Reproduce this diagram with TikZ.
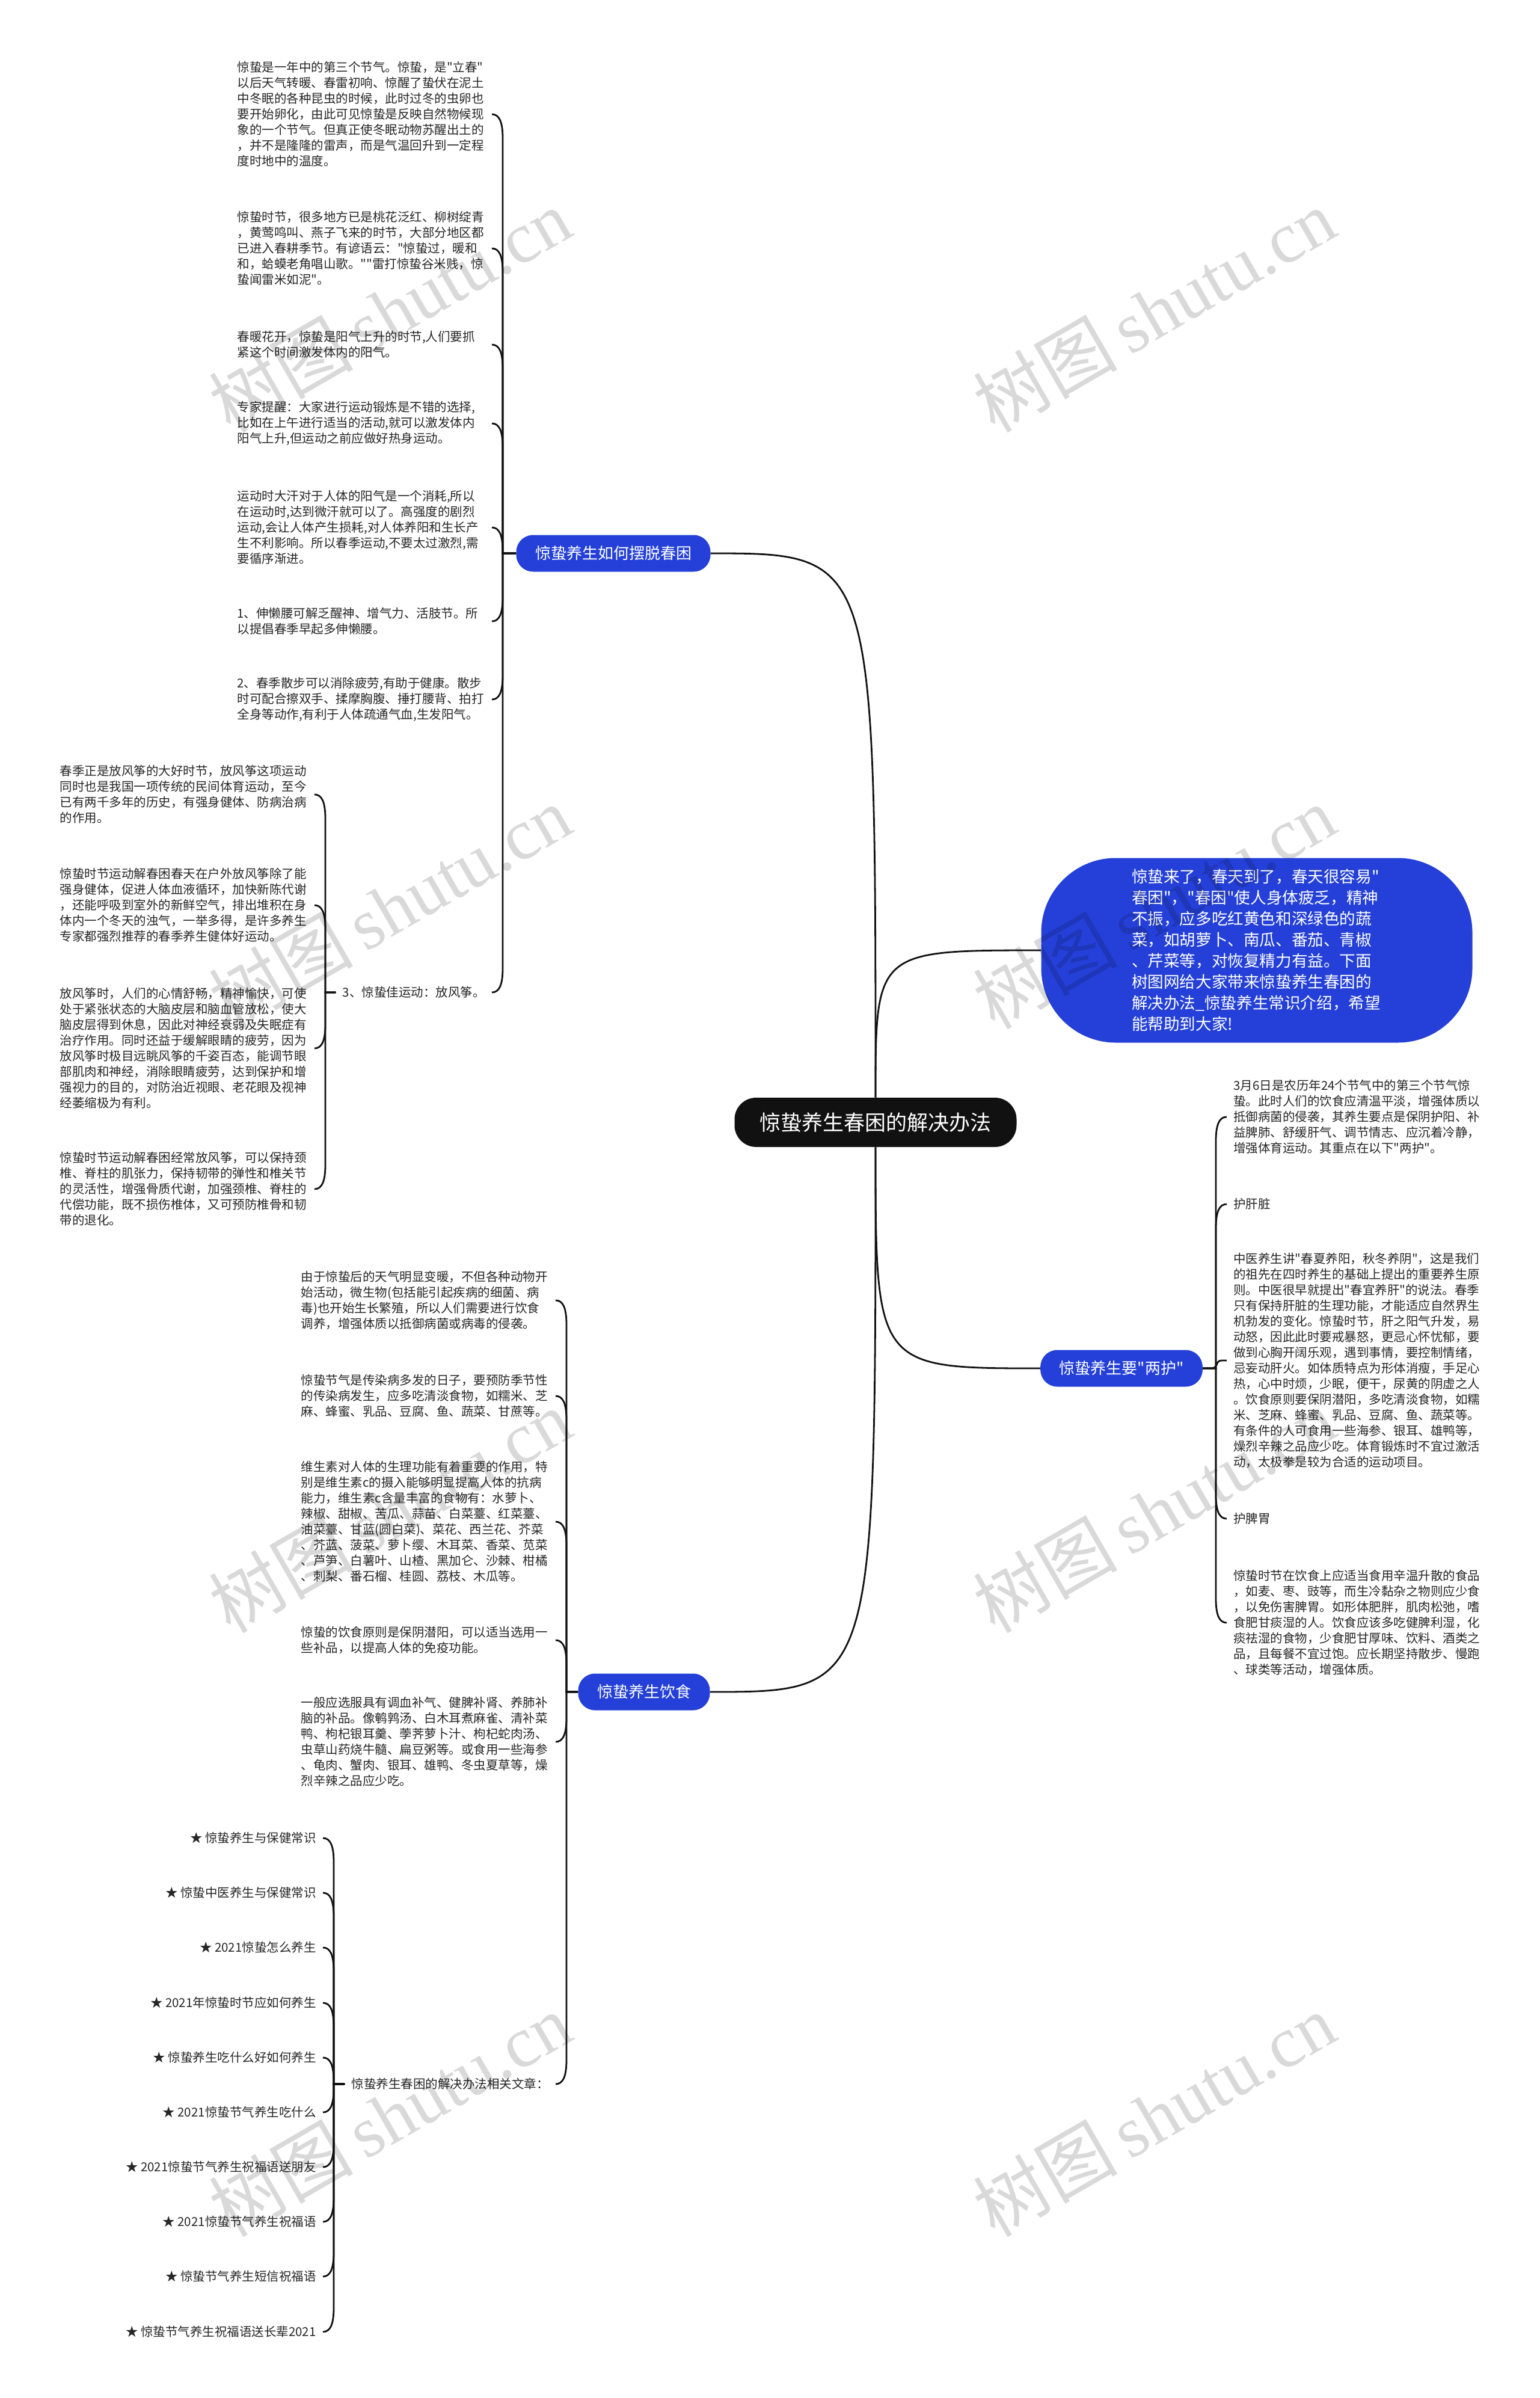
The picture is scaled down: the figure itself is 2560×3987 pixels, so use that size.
\documentclass[tikz,border=0pt]{standalone}
\usepackage{fontspec}
\setmainfont{Noto Sans CJK SC}[Ligatures=TeXOff]
\newfontfamily\wmlat{Liberation Serif}
\definecolor{nodeblue}{HTML}{2440D8}
\definecolor{rootblack}{HTML}{111111}
\definecolor{linec}{HTML}{111111}
\newcommand\lbr[3]{\draw[conn] (#2.east) .. controls +(12,0) and +(0,-28*#3) .. ++(18,40*#3) |- (#1.west);}
\newcommand\rbr[3]{\draw[conn] (#2.west) .. controls +(-12,0) and +(0,-28*#3) .. ++(-18,40*#3) |- (#1.east);}
\begin{document}
\begin{tikzpicture}[x=0.5pt,y=-0.5pt,
  conn/.style={draw=linec,line width=1.4pt},
  txt/.style={font=\fontsize{10.25pt}{13pt}\selectfont,text width=206pt,align=left,inner xsep=5.5pt,inner ysep=2pt,text=black!85},
  txtl/.style={txt,anchor=east},
  txtr/.style={txt,anchor=west},
  lstitem/.style={font=\fontsize{10.25pt}{13pt}\selectfont,inner xsep=5.5pt,inner ysep=2pt,text=black!85,anchor=east},
  branch/.style={fill=nodeblue,text=white,font=\fontsize{13pt}{15pt}\selectfont,rounded corners=14pt,minimum height=30.5pt,inner xsep=15.75pt,inner ysep=0pt},
  rootnode/.style={fill=rootblack,text=white,font=\fontsize{17.5pt}{20pt}\selectfont,rounded corners=18pt,minimum height=41pt,inner xsep=21pt,inner ysep=0pt},
  intro/.style={fill=nodeblue,text=white,font=\fontsize{13.3pt}{17.5pt}\selectfont,rounded corners=62pt,minimum width=358.5pt,minimum height=153.5pt,text width=208pt,align=left},
  wm/.style={rotate=30,text=black,text opacity=0.15,font=\fontsize{60pt}{60pt}\selectfont}]
\useasboundingbox (0,0) rectangle (2560,3987);
\fill[white] (0,0) rectangle (2560,3987);

% central and main branches
\node[rootnode] (root) at (1456,1866) {惊蛰养生春困的解决办法};
\node[branch] (A) at (1020,920) {惊蛰养生如何摆脱春困};
\node[intro] (intro) at (2090,1580) {惊蛰来了，春天到了，春天很容易"\\春困"，"春困"使人身体疲乏，精神\\不振，应多吃红黄色和深绿色的蔬\\菜，如胡萝卜、南瓜、番茄、青椒\\、芹菜等，对恢复精力有益。下面\\树图网给大家带来惊蛰养生春困的\\解决办法\_惊蛰养生常识介绍，希望\\能帮助到大家!};
\node[branch] (lh) at (1865,2275) {惊蛰养生要"两护"};
\node[branch] (diet) at (1071,2813) {惊蛰养生饮食};

\draw[conn] (root.north) .. controls (root.north |- A.east) .. (A.east);
\draw[conn] (root.north) .. controls (root.north |- intro.west) .. (intro.west);
\draw[conn] (root.south) .. controls (root.south |- lh.west) .. (lh.west);
\draw[conn] (root.south) .. controls (root.south |- diet.east) .. (diet.east);

% branch A children
\node[txtl] (a1) at (818,190) {惊蛰是一年中的第三个节气。惊蛰，是"立春"\\以后天气转暖、春雷初响、惊醒了蛰伏在泥土\\中冬眠的各种昆虫的时候，此时过冬的虫卵也\\要开始卵化，由此可见惊蛰是反映自然物候现\\象的一个节气。但真正使冬眠动物苏醒出土的\\，并不是隆隆的雷声，而是气温回升到一定程\\度时地中的温度。};
\node[txtl] (a2) at (818,413) {惊蛰时节，很多地方已是桃花泛红、柳树绽青\\，黄莺鸣叫、燕子飞来的时节，大部分地区都\\已进入春耕季节。有谚语云："惊蛰过，暖和\\和，蛤蟆老角唱山歌。""雷打惊蛰谷米贱，惊\\蛰闻雷米如泥"。};
\node[txtl] (a3) at (818,573) {春暖花开，惊蛰是阳气上升的时节,人们要抓\\紧这个时间激发体内的阳气。};
\node[txtl] (a4) at (818,704) {专家提醒：大家进行运动锻炼是不错的选择,\\比如在上午进行适当的活动,就可以激发体内\\阳气上升,但运动之前应做好热身运动。};
\node[txtl] (a5) at (818,877) {运动时大汗对于人体的阳气是一个消耗,所以\\在运动时,达到微汗就可以了。高强度的剧烈\\运动,会让人体产生损耗,对人体养阳和生长产\\生不利影响。所以春季运动,不要太过激烈,需\\要循序渐进。};
\node[txtl] (a6) at (818,1033) {1、伸懒腰可解乏醒神、增气力、活肢节。所\\以提倡春季早起多伸懒腰。};
\node[txtl] (a7) at (818,1163) {2、春季散步可以消除疲劳,有助于健康。散步\\时可配合擦双手、揉摩胸腹、捶打腰背、拍打\\全身等动作,有利于人体疏通气血,生发阳气。};
\node[lstitem] (a8) at (818,1650) {3、惊蛰佳运动：放风筝。};
\lbr{A}{a1}{1}
\lbr{A}{a2}{1}
\lbr{A}{a3}{1}
\lbr{A}{a4}{1}
\lbr{A}{a5}{1}
\lbr{A}{a6}{-1}
\lbr{A}{a7}{-1}
\lbr{A}{a8}{-1}

% kite children
\node[txtl] (k1) at (523,1321) {春季正是放风筝的大好时节，放风筝这项运动\\同时也是我国一项传统的民间体育运动，至今\\已有两千多年的历史，有强身健体、防病治病\\的作用。};
\node[txtl] (k2) at (523,1505) {惊蛰时节运动解春困春天在户外放风筝除了能\\强身健体，促进人体血液循环，加快新陈代谢\\，还能呼吸到室外的新鲜空气，排出堆积在身\\体内一个冬天的浊气，一举多得，是许多养生\\专家都强烈推荐的春季养生健体好运动。};
\node[txtl] (k3) at (523,1743) {放风筝时，人们的心情舒畅，精神愉快，可使\\处于紧张状态的大脑皮层和脑血管放松，使大\\脑皮层得到休息，因此对神经衰弱及失眠症有\\治疗作用。同时还益于缓解眼睛的疲劳，因为\\放风筝时极目远眺风筝的千姿百态，能调节眼\\部肌肉和神经，消除眼睛疲劳，达到保护和增\\强视力的目的，对防治近视眼、老花眼及视神\\经萎缩极为有利。};
\node[txtl] (k4) at (523,1977) {惊蛰时节运动解春困经常放风筝，可以保持颈\\椎、脊柱的肌张力，保持韧带的弹性和椎关节\\的灵活性，增强骨质代谢，加强颈椎、脊柱的\\代偿功能，既不损伤椎体，又可预防椎骨和韧\\带的退化。};
\lbr{a8}{k1}{1}
\lbr{a8}{k2}{1}
\lbr{a8}{k3}{-1}
\lbr{a8}{k4}{-1}

% two protections children
\node[txtr] (r1) at (2040,1857) {3月6日是农历年24个节气中的第三个节气惊\\蛰。此时人们的饮食应清温平淡，增强体质以\\抵御病菌的侵袭，其养生要点是保阴护阳、补\\益脾肺、舒缓肝气、调节情志、应沉着冷静，\\增强体育运动。其重点在以下"两护"。};
\node[txtr] (r2) at (2040,2002) {护肝脏};
\node[txtr] (r3) at (2040,2262) {中医养生讲"春夏养阳，秋冬养阴"，这是我们\\的祖先在四时养生的基础上提出的重要养生原\\则。中医很早就提出"春宜养肝"的说法。春季\\只有保持肝脏的生理功能，才能适应自然界生\\机勃发的变化。惊蛰时节，肝之阳气升发，易\\动怒，因此此时要戒暴怒，更忌心怀忧郁，要\\做到心胸开阔乐观，遇到事情，要控制情绪，\\忌妄动肝火。如体质特点为形体消瘦，手足心\\热，心中时烦，少眠，便干，尿黄的阴虚之人\\。饮食原则要保阴潜阳，多吃清淡食物，如糯\\米、芝麻、蜂蜜、乳品、豆腐、鱼、蔬菜等。\\有条件的人可食用一些海参、银耳、雄鸭等，\\燥烈辛辣之品应少吃。体育锻炼时不宜过激活\\动，太极拳是较为合适的运动项目。};
\node[txtr] (r4) at (2040,2525) {护脾胃};
\node[txtr] (r5) at (2040,2698) {惊蛰时节在饮食上应适当食用辛温升散的食品\\，如麦、枣、豉等，而生冷黏杂之物则应少食\\，以免伤害脾胃。如形体肥胖，肌肉松弛，嗜\\食肥甘痰湿的人。饮食应该多吃健脾利湿，化\\痰祛湿的食物，少食肥甘厚味、饮料、酒类之\\品，且每餐不宜过饱。应长期坚持散步、慢跑\\、球类等活动，增强体质。};
\rbr{lh}{r1}{1}
\rbr{lh}{r2}{1}
\draw[conn,rounded corners=4pt] (lh.east) -- ++(23,0) |- (r3.west);
\rbr{lh}{r4}{-1}
\rbr{lh}{r5}{-1}

% diet children
\node[txtl] (f1) at (924,2162) {由于惊蛰后的天气明显变暖，不但各种动物开\\始活动，微生物(包括能引起疾病的细菌、病\\毒)也开始生长繁殖，所以人们需要进行饮食\\调养，增强体质以抵御病菌或病毒的侵袭。};
\node[txtl] (f2) at (924,2321) {惊蛰节气是传染病多发的日子，要预防季节性\\的传染病发生，应多吃清淡食物，如糯米、芝\\麻、蜂蜜、乳品、豆腐、鱼、蔬菜、甘蔗等。};
\node[txtl] (f3) at (924,2530) {维生素对人体的生理功能有着重要的作用，特\\别是维生素c的摄入能够明显提高人体的抗病\\能力，维生素c含量丰富的食物有：水萝卜、\\辣椒、甜椒、苦瓜、蒜苗、白菜薹、红菜薹、\\油菜薹、甘蓝(圆白菜)、菜花、西兰花、芥菜\\、芥蓝、菠菜、萝卜缨、木耳菜、香菜、苋菜\\、芦笋、白薯叶、山楂、黑加仑、沙棘、柑橘\\、刺梨、番石榴、桂圆、荔枝、木瓜等。};
\node[txtl] (f4) at (924,2727) {惊蛰的饮食原则是保阴潜阳，可以适当选用一\\些补品，以提高人体的免疫功能。};
\node[txtl] (f5) at (924,2896) {一般应选服具有调血补气、健脾补肾、养肺补\\脑的补品。像鹌鹑汤、白木耳煮麻雀、清补菜\\鸭、枸杞银耳羹、荸荠萝卜汁、枸杞蛇肉汤、\\虫草山药烧牛髓、扁豆粥等。或食用一些海参\\、龟肉、蟹肉、银耳、雄鸭、冬虫夏草等，燥\\烈辛辣之品应少吃。};
\node[lstitem] (f6) at (924,3465) {惊蛰养生春困的解决办法相关文章：};
\lbr{diet}{f1}{1}
\lbr{diet}{f2}{1}
\lbr{diet}{f3}{1}
\lbr{diet}{f4}{1}
\lbr{diet}{f5}{-1}
\lbr{diet}{f6}{-1}

% related articles
\node[lstitem] (l1) at (537,3056) {★ 惊蛰养生与保健常识};
\node[lstitem] (l2) at (537,3147) {★ 惊蛰中医养生与保健常识};
\node[lstitem] (l3) at (537,3238) {★ 2021惊蛰怎么养生};
\node[lstitem] (l4) at (537,3330) {★ 2021年惊蛰时节应如何养生};
\node[lstitem] (l5) at (537,3421) {★ 惊蛰养生吃什么好如何养生};
\node[lstitem] (l6) at (537,3512) {★ 2021惊蛰节气养生吃什么};
\node[lstitem] (l7) at (537,3603) {★ 2021惊蛰节气养生祝福语送朋友};
\node[lstitem] (l8) at (537,3694) {★ 2021惊蛰节气养生祝福语};
\node[lstitem] (l9) at (537,3785) {★ 惊蛰节气养生短信祝福语};
\node[lstitem] (l10) at (537,3877) {★ 惊蛰节气养生祝福语送长辈2021};
\lbr{f6}{l1}{1}
\lbr{f6}{l2}{1}
\lbr{f6}{l3}{1}
\lbr{f6}{l4}{1}
\lbr{f6}{l5}{1}
\lbr{f6}{l6}{-1}
\lbr{f6}{l7}{-1}
\lbr{f6}{l8}{-1}
\lbr{f6}{l9}{-1}
\lbr{f6}{l10}{-1}

% watermarks
\foreach \wx/\wy [count=\i] in {648/516,1919/516,648/1508,1919/1508,648/2512,1919/2512,648/3516,1919/3516}{
  \node[wm] (wm\i) at (\wx,\wy) {树图\,{\wmlat shutu.cn}};
}
\end{tikzpicture}
\end{document}
